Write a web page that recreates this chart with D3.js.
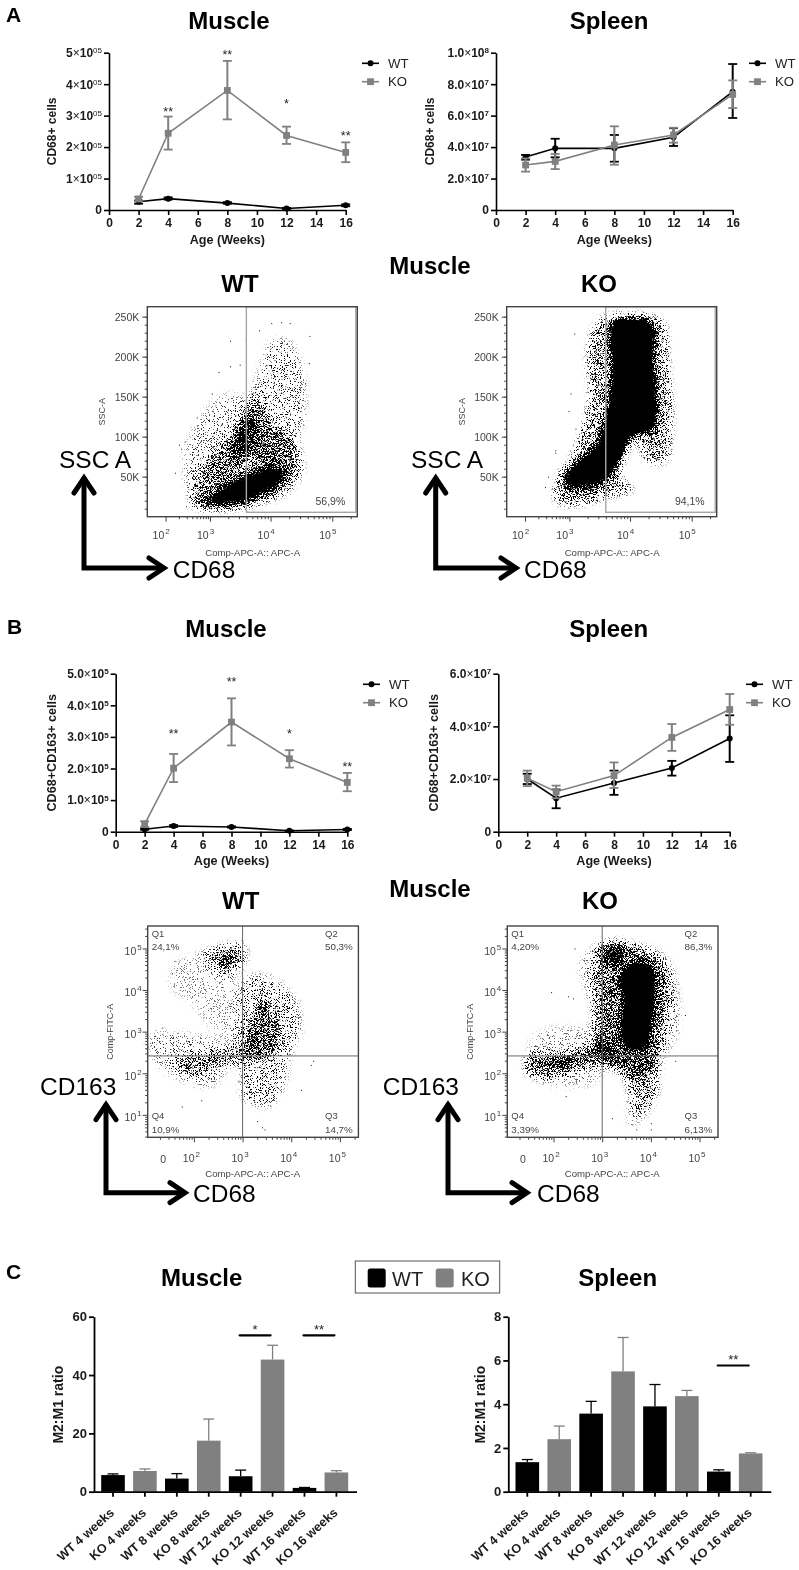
<!DOCTYPE html>
<html><head><meta charset="utf-8">
<script src="https://cdn.jsdelivr.net/npm/d3@7"></script>
<style>html,body{margin:0;background:#fff}svg{display:block;font-family:"Liberation Sans",Arial,sans-serif;filter:blur(.3px)}</style>
</head><body><svg id="c" width="799" height="1570"></svg>
<script>
// ---------- line chart data ----------
const ages=[2,4,8,12,16];
const aMuscleWT=[.26e5,.36e5,.22e5,.05e5,.15e5];
const aMuscleWThi=[.3e5,.4e5,.25e5,.07e5,.18e5];
const aMuscleWTlo=[.2e5,.33e5,.2e5,.03e5,.12e5];
const aMuscleKO=[.35e5,2.44e5,3.8e5,2.37e5,1.83e5];
const aMuscleKOhi=[.42e5,2.97e5,4.74e5,2.65e5,2.15e5];
const aMuscleKOlo=[.28e5,1.92e5,2.88e5,2.1e5,1.52e5];
const aSpleenWT=[3.37e7,3.92e7,3.92e7,4.62e7,7.52e7];
const aSpleenWThi=[3.5e7,4.53e7,4.77e7,5.2e7,9.28e7];
const aSpleenWTlo=[3.2e7,3.35e7,3.07e7,4.07e7,5.85e7];
const aSpleenKO=[2.86e7,3.09e7,4.13e7,4.77e7,7.35e7];
const aSpleenKOhi=[3.28e7,3.56e7,5.32e7,5.23e7,8.24e7];
const aSpleenKOlo=[2.44e7,2.6e7,2.88e7,4.28e7,6.48e7];
const bMuscleWT=[.08e5,.18e5,.15e5,.03e5,.07e5];
const bMuscleWThi=[.1e5,.21e5,.17e5,.04e5,.09e5];
const bMuscleWTlo=[.06e5,.15e5,.13e5,.02e5,.05e5];
const bMuscleKO=[.24e5,2.01e5,3.47e5,2.31e5,1.56e5];
const bMuscleKOhi=[.33e5,2.46e5,4.22e5,2.58e5,1.86e5];
const bMuscleKOlo=[.15e5,1.57e5,2.73e5,2.03e5,1.28e5];
const bSpleenWT=[2.0e7,1.27e7,1.85e7,2.42e7,3.54e7];
const bSpleenWThi=[2.2e7,1.6e7,2.32e7,2.69e7,4.42e7];
const bSpleenWTlo=[1.81e7,.89e7,1.4e7,2.13e7,2.65e7];
const bSpleenKO=[2.03e7,1.52e7,2.13e7,3.58e7,4.64e7];
const bSpleenKOhi=[2.32e7,1.75e7,2.63e7,4.09e7,5.23e7];
const bSpleenKOlo=[1.73e7,1.27e7,1.66e7,3.07e7,4.06e7];
const xTicks=[0,2,4,6,8,10,12,14,16];
const aMuscleTicks=[0,1e5,2e5,3e5,4e5,5e5];
const aSpleenTicks=[0,2e7,4e7,6e7,8e7,1e8];
const bMuscleTicks=[0,1e5,2e5,3e5,4e5,5e5];
const bSpleenTicks=[0,2e7,4e7,6e7];
const aMuscleStars=[[4,"**",3.23e5],[8,"**",5.05e5],[12,"*",3.47e5],[16,"**",2.45e5]];
const bMuscleStars=[[4,"**",3.2e5],[8,"**",4.85e5],[12,"*",3.2e5],[16,"**",2.17e5]];
// ---------- bar chart data ----------
const barLabels=["WT 4 weeks","KO 4 weeks","WT 8 weeks","KO 8 weeks","WT 12 weeks","KO 12 weeks","WT 16 weeks","KO 16 weeks"];
const cMuscle=[5.7,7.1,4.5,17.5,5.3,45.3,1.3,6.6];
const cMuscleErr=[6.1,7.8,6.2,24.9,7.4,50.2,1.45,7.2];
const cSpleen=[1.35,2.4,3.57,5.5,3.9,4.37,.92,1.75];
const cSpleenErr=[1.47,3.0,4.13,7.05,4.9,4.63,1.0,1.78];
const cMuscleSig=[[4,5,"*",53.6],[6,7,"**",53.6]];
const cSpleenSig=[[6,7,"**",5.77]];
// ---------- flow cytometry: density regions [log10 CD68, SSC in K] ----------
const ssWTregions=[
 {d:.72,p:[[2.67,17],[3.49,15],[3.92,29],[4.19,42],[4.25,58],[3.98,62],[3.6,54],[3.27,42],[2.95,25]]},
 {d:.36,p:[[2.57,15],[3.6,12.5],[4.3,33],[4.52,62],[4.36,96],[3.98,121],[3.81,154],[3.6,133],[3.27,96],[2.84,62]]},
 {d:.35,p:[[3.33,75],[3.6,121],[3.76,121],[3.76,100],[3.54,71]]},
 {d:.19,p:[[3.43,96],[3.7,162],[4.03,221],[4.3,221],[4.52,187],[4.57,133],[4.45,87],[4.36,54]]},
 {d:.17,p:[[2.51,33],[2.40,71],[2.73,121],[3.27,154],[3.6,146],[3.49,71]]}];
const ssWTdots=[[2.46,13],[2.21,55],[2.43,94],[2.7,124],[3.33,220],[3.59,221],[3.81,233],[4.63,226],[4.31,242],[4.17,243],[4.01,242],[4.62,192],[4.56,167],[3.03,154],[3.49,190],[3.33,188],[3.14,181],[2.3,90],[2.35,85]];
const ssKOregions=[
 {d:1,p:[[3.72,242],[4.05,248],[4.34,242],[4.37,196],[4.37,108],[4.15,106],[3.99,96],[3.88,75],[3.72,58],[3.40,46],[3.07,46],[2.93,50],[3.18,71],[3.45,87.5],[3.61,125],[3.72,175]]},
 {d:.55,p:[[2.85,46],[3.07,62.5],[3.5,62.5],[3.72,50],[3.45,37.5],[2.95,33]]},
 {d:.36,p:[[3.5,246],[4.05,252],[4.53,244],[4.62,196],[4.67,108],[4.59,71],[4.32,67],[4.05,100],[3.83,54],[4.05,33],[3.61,25],[3.34,17],[2.69,19],[2.75,50],[3.07,79],[3.34,154],[3.29,196]]}];
const ssKOdots=[[3.08,229],[3.02,154],[2.98,132],[2.68,80],[2.68,83],[2.52,50],[2.45,37],[3.1,110],[4.68,120],[4.45,72]];
const qWTregions=[
 {d:.3,p:[[2.19,4.88],[2.47,5.04],[3.01,5.12],[3.08,4.8],[2.81,4.36],[2.47,4.48]]},
 {d:.42,p:[[2.47,4.8],[2.74,4.88],[2.95,4.8],[2.74,4.6],[2.53,4.68]]},
 {d:.36,p:[[3.08,2.4],[3.01,2.72],[3.29,3.6],[3.42,3.92],[3.7,3.44],[3.77,2.8],[3.56,2.4]]},
 {d:.22,p:[[2.95,2.4],[2.88,3.44],[3.08,4.32],[3.56,4.32],[4.11,3.76],[4.18,2.88],[3.97,2.4],[3.9,1.84],[3.56,1.2],[3.01,1.36]]},
 {d:.32,p:[[1.58,2.32],[1.92,2.4],[2.47,2.56],[3.01,2.64],[3.15,2.32],[2.47,2.16],[2.05,1.92],[1.71,2.08]]},
 {d:.17,p:[[1.1,2.96],[1.85,2.96],[2.47,2.8],[2.74,2.4],[2.4,1.68],[1.71,1.84],[1.1,2.4]]},
 {d:.13,p:[[1.58,4.64],[2.19,4.88],[2.81,4.32],[2.95,2.64],[2.53,2.88],[1.92,3.68],[1.51,4.08]]}];
const qWTdots=[[1.58,4.1],[1.35,3.1],[1.2,2.9],[1.75,1.2],[2.15,1.35],[3.3,.85],[3.4,.7],[3.45,.65],[4.2,1.6],[4.45,2.3],[4.4,2.2],[1.9,4.3],[1.6,4.7],[1.55,4.4]];
const qKOregions=[
 {d:.95,p:[[3.36,4.24],[3.64,4.64],[3.98,4.56],[4.08,4],[3.98,3.12],[3.91,2.64],[3.5,2.6],[3.4,3.12],[3.47,3.84]]},
 {d:.36,p:[[2.95,2.4],[2.99,5.12],[3.43,5.12],[4.12,4.8],[4.39,4.24],[4.25,3.04],[4.12,2.4],[3.77,1.84],[3.23,2.16]]},
 {d:.17,p:[[2.82,3.44],[2.54,4.64],[2.95,5.12],[3.5,5.16],[4.32,4.8],[4.6,3.68],[4.53,2.88],[4.18,2.16],[4.05,1.2],[3.57,.72],[3.5,1.84],[2.95,2.32]]},
 {d:.4,p:[[1.51,2.4],[2.27,2.48],[2.82,2.72],[3.23,2.72],[3.36,2.24],[2.68,2.2],[2.13,2],[1.72,1.92],[1.45,2.08]]},
 {d:.45,p:[[1.92,2.28],[2.27,2.4],[2.47,2.32],[2.2,2.16],[1.99,2.16]]},
 {d:.14,p:[[1.38,2.08],[1.65,2.96],[2.54,3.12],[2.95,3.04],[2.95,1.84],[1.99,1.68],[1.51,1.92]]},
 {d:.5,p:[[3.02,4.96],[3.43,5.08],[3.43,4.64],[3.09,4.64]]},
 {d:.22,p:[[3.43,2.32],[4.12,2.32],[4.12,1.52],[3.71,1.04],[3.57,1.52]]}];
const qKOdots=[[1.95,3.95],[2.3,3.85],[2.4,3.8],[2.25,1.45],[3.2,.92],[3.6,.78],[3.7,.65],[4.0,.65],[4.0,.8],[4.5,2.3],[4.7,3.4],[2.43,5.0]];

const BLACK="#000",GRAY="#808080",TXT="#1a1a1a",FLOW="#444";
const svg=d3.select("#c");
function txt(g,x,y,s,o={}){const t=g.append("text").attr("x",x).attr("y",y).text(s)
 .attr("font-size",o.size||12).attr("font-weight",o.w||"normal").attr("fill",o.fill||"#000").attr("text-anchor",o.a||"start");
 if(o.rot!==undefined)t.attr("transform",`rotate(${o.rot} ${x} ${y})`);return t;}
const bold=(x,y,s,size=24)=>txt(svg,x,y,s,{size,w:"bold",a:"middle"});

// stipple filter: blurred density x noise threshold
const defs=svg.append("defs");
function stipple(id,seed){
 const f=defs.append("filter").attr("id",id).attr("x",0).attr("y",0).attr("width",799).attr("height",1570)
  .attr("filterUnits","userSpaceOnUse").attr("color-interpolation-filters","sRGB");
 f.append("feGaussianBlur").attr("in","SourceAlpha").attr("stdDeviation",4).attr("result","den0");
 const g=f.append("feComponentTransfer").attr("in","den0").attr("result","den");
 g.append("feFuncA").attr("type","gamma").attr("amplitude",1.2).attr("exponent",1.3).attr("offset",0);
 f.append("feTurbulence").attr("type","fractalNoise").attr("baseFrequency",1.37).attr("numOctaves",1).attr("seed",seed).attr("result","t");
 f.append("feColorMatrix").attr("in","t").attr("type","matrix").attr("values","0 0 0 0 0 0 0 0 0 0 0 0 0 0 0 3.6 0 0 0 -1.3").attr("result","n");
 f.append("feComposite").attr("in","den").attr("in2","n").attr("operator","arithmetic").attr("k1",0).attr("k2",1.4).attr("k3",1).attr("k4",-1).attr("result","s");
 const c=f.append("feComponentTransfer").attr("in","s");
 c.append("feFuncA").attr("type","linear").attr("slope",5).attr("intercept",0);
}
[1,2,3,4].forEach(i=>stipple("st"+i,i*7));

// ---------- line panels ----------
function powLabel(sel,sup){
 sel.each(function(){
  const v=+d3.select(this).datum(),t=d3.select(this);t.text(null);
  if(v===0){t.append("tspan").text("0");return;}
  sup(t,v);
 });
}
function linePanel(o){
 const g=svg.append("g");
 const x=d3.scaleLinear().domain([0,16]).range([o.x0,o.x1]);
 const y=d3.scaleLinear().domain([0,o.max]).range([o.y0,o.y1]);
 const ax=g.append("g").attr("transform",`translate(0,${o.y0})`).call(d3.axisBottom(x).tickValues(xTicks).tickSize(5).tickSizeOuter(0).tickPadding(3));
 const ay=g.append("g").attr("transform",`translate(${o.x0},0)`).call(d3.axisLeft(y).tickValues(o.ticks).tickSize(5).tickSizeOuter(0).tickPadding(2));
 [ax,ay].forEach(a=>{a.selectAll("path,line").attr("stroke","#000").attr("stroke-width",1.6);
  a.selectAll("text").attr("font-size",12).attr("font-weight","bold").attr("font-family","inherit").attr("fill",TXT);});
 ax.selectAll("text").attr("dy","0.78em");
 powLabel(ay.selectAll("text"),o.fmt);
 txt(g,(o.x0+o.x1)/2,o.y0+33.5,"Age (Weeks)",{size:12.6,w:"bold",a:"middle",fill:TXT});
 txt(g,o.ylx,(o.y0+o.y1)/2,o.ylab,{size:o.ylsize||12,w:"bold",a:"middle",rot:-90,fill:TXT}).attr("dy","0.35em");
 const series=[[o.wt,o.wtHi,o.wtLo,BLACK,"c"],[o.ko,o.koHi,o.koLo,GRAY,"s"]];
 series.forEach(([v,hi,lo,col,kind])=>{
  const l=g.append("g");
  ages.forEach((a,i)=>{
   l.append("line").attr("x1",x(a)).attr("x2",x(a)).attr("y1",y(hi[i])).attr("y2",y(lo[i])).attr("stroke",col).attr("stroke-width",2);
   [hi[i],lo[i]].forEach(e=>l.append("line").attr("x1",x(a)-4.5).attr("x2",x(a)+4.5).attr("y1",y(e)).attr("y2",y(e)).attr("stroke",col).attr("stroke-width",1.8));
  });
  l.append("path").attr("fill","none").attr("stroke",col).attr("stroke-width",1.6)
   .attr("d",d3.line().x((d,i)=>x(ages[i])).y(d=>y(d))(v));
  v.forEach((d,i)=>marker(l,x(ages[i]),y(d),col,kind));
 });
 (o.stars||[]).forEach(([a,s,v])=>txt(g,x(a),y(v)+7.5,s,{size:12.5,a:"middle",fill:"#222"}));
 [["WT",BLACK,"c",o.legY],["KO",GRAY,"s",o.legY+18.4]].forEach(([n,col,k,ly])=>{
  g.append("line").attr("x1",o.legX).attr("x2",o.legX+17).attr("y1",ly).attr("y2",ly).attr("stroke",col).attr("stroke-width",1.6);
  marker(g,o.legX+8.5,ly,col,k);
  txt(g,o.legX+26,ly+4.6,n,{size:13.2,fill:"#222"});
 });
}
function marker(g,cx,cy,col,k){
 if(k==="c")g.append("circle").attr("cx",cx).attr("cy",cy).attr("r",3).attr("fill",col);
 else g.append("rect").attr("x",cx-3.4).attr("y",cy-3.4).attr("width",6.8).attr("height",6.8).attr("fill",col);
}
function fmtSup(mantissa,supText){return (t,v)=>{
 t.append("tspan").text(mantissa(v));
 t.append("tspan").text("×").attr("font-weight","normal");
 t.append("tspan").text("10");
 t.append("tspan").text(supText(v)).attr("font-size",8).attr("dy",-3.6).attr("font-weight",supText(v).length>1?"normal":"bold");
};}
const f05=fmtSup(v=>(v/1e5).toFixed(0),()=>"05");
const f5=fmtSup(v=>(v/1e5).toFixed(1),()=>"5");
const f7=fmtSup(v=>v>=1e8?"1.0":(v/1e7).toFixed(1),v=>v>=1e8?"8":"7");

linePanel({x0:109,x1:345.7,y0:210,y1:52.7,max:5e5,ticks:aMuscleTicks,fmt:f05,ylx:52.3,ylab:"CD68+ cells",
 wt:aMuscleWT,wtHi:aMuscleWThi,wtLo:aMuscleWTlo,ko:aMuscleKO,koHi:aMuscleKOhi,koLo:aMuscleKOlo,stars:aMuscleStars,legX:362,legY:63.3});
linePanel({x0:496,x1:732.7,y0:210,y1:52.7,max:1e8,ticks:aSpleenTicks,fmt:f7,ylx:430,ylab:"CD68+ cells",
 wt:aSpleenWT,wtHi:aSpleenWThi,wtLo:aSpleenWTlo,ko:aSpleenKO,koHi:aSpleenKOhi,koLo:aSpleenKOlo,legX:749,legY:63.3});
linePanel({x0:115.7,x1:347.3,y0:831.7,y1:673.7,max:5e5,ticks:bMuscleTicks,fmt:f5,ylx:51.7,ylab:"CD68+CD163+ cells",ylsize:12.6,
 wt:bMuscleWT,wtHi:bMuscleWThi,wtLo:bMuscleWTlo,ko:bMuscleKO,koHi:bMuscleKOhi,koLo:bMuscleKOlo,stars:bMuscleStars,legX:363,legY:684.3});
linePanel({x0:498.3,x1:729.7,y0:831.7,y1:673.7,max:6e7,ticks:bSpleenTicks,fmt:f7,ylx:434,ylab:"CD68+CD163+ cells",ylsize:12.6,
 wt:bSpleenWT,wtHi:bSpleenWThi,wtLo:bSpleenWTlo,ko:bSpleenKO,koHi:bSpleenKOhi,koLo:bSpleenKOlo,legX:746,legY:684.3});

// ---------- flow plots ----------
function styleFlowAxis(a){a.selectAll("path").attr("stroke","none");a.selectAll("line").attr("stroke",FLOW).attr("stroke-width",1);}
function drawRegions(g,x,y,regions,dots,fid){
 const line=d3.line().x(d=>x(d[0])).y(d=>y(d[1])).curve(d3.curveCatmullRomClosed.alpha(.5));
 const r=g.append("g").attr("filter",`url(#${fid})`).attr("clip-path",null);
 r.selectAll("path").data(regions.slice().sort((a,b)=>a.d-b.d)).join("path").attr("d",d=>line(d.p)).attr("fill","#000").attr("fill-opacity",d=>d.d);
 g.selectAll("rect.dot").data(dots).join("rect").attr("class","dot").attr("x",d=>x(d[0])).attr("y",d=>y(d[1])).attr("width",1).attr("height",1).attr("fill","#111");
}
function supLabels(a,vals,dxSup){
 a.selectAll("text").each(function(){
  const t=d3.select(this),n=+t.datum();t.text(null);
  t.append("tspan").text("10");t.append("tspan").text(n).attr("font-size",8).attr("dy",-5).attr("dx",1);
 });
}
function frame(g,l,t,w,h){g.append("rect").attr("x",l).attr("y",t).attr("width",w).attr("height",h).attr("fill","none").attr("stroke",FLOW).attr("stroke-width",1.4);}

function flowA(o){
 const g=svg.append("g"),top=306.7,H=210,W=210;
 const x=d3.scaleLinear().domain([1.7,2,3,4,5,5.41]).range([o.l,o.l+18.3,o.l+62.7,o.l+123.3,o.l+185,o.l+W]);
 const y=d3.scaleLinear().domain([0,262.5]).range([top+H,top]);
 drawRegions(g,x,y,o.regions,o.dots,o.fid);
 // gate
 g.append("rect").attr("x",x(3.6)).attr("y",top).attr("width",o.l+W-1.5-x(3.6)).attr("height",y(5.5)-top).attr("fill","none").attr("stroke","#a6a6a6").attr("stroke-width",1.4);
 frame(g,o.l,top,W,H);
 const minorY=d3.range(10,260,10),minorX=[];
 [2,3,4,5].forEach(n=>d3.range(2,10).forEach(k=>{const v=n+Math.log10(k);if(v<5.41)minorX.push(v);}));
 const ay0=g.append("g").attr("transform",`translate(${o.l},0)`).call(d3.axisLeft(y).tickValues(minorY).tickSize(2.5).tickFormat(""));styleFlowAxis(ay0);
 const ax0=g.append("g").attr("transform",`translate(0,${top+H})`).call(d3.axisBottom(x).tickValues(minorX).tickSize(2.5).tickFormat(""));styleFlowAxis(ax0);
 const ay=g.append("g").attr("transform",`translate(${o.l},0)`).call(d3.axisLeft(y).tickValues([50,100,150,200,250]).tickSize(5).tickFormat(d=>d+"K"));styleFlowAxis(ay);
 const ax=g.append("g").attr("transform",`translate(0,${top+H})`).call(d3.axisBottom(x).tickValues([2,3,4,5]).tickSize(5).tickPadding(8));styleFlowAxis(ax);
 [ax,ay].forEach(a=>a.selectAll("text").attr("font-size",10.5).attr("font-family","inherit").attr("fill",FLOW));
 ax.selectAll("text").attr("dx",-5).attr("dy","0.85em");
 supLabels(ax);
 txt(g,o.l+105.4,556,"Comp-APC-A:: APC-A",{size:9.6,a:"middle",fill:FLOW});
 txt(g,o.l-45.3,411.7,"SSC-A",{size:9,a:"middle",rot:-90,fill:FLOW}).attr("dy","0.35em");
 txt(g,o.l+198,505,o.pct,{size:10.5,a:"end",fill:FLOW});
 arrow(o.arrX,475,568,o.arrEnd);
 txt(svg,o.lab1X,468,"SSC A",{size:24.5});
 txt(svg,o.lab2X,578,"CD68",{size:24.5});
}
function flowB(o){
 const g=svg.append("g"),top=926,H=211.3,W=210.7;
 const x=d3.scaleLinear().domain([1.05,5.38]).range([o.l,o.l+W]);
 const y=d3.scaleLinear().domain([.46,5.54]).range([top+H,top]);
 drawRegions(g,x,y,o.regions,o.dots,o.fid);
 g.append("line").attr("x1",x(3)).attr("x2",x(3)).attr("y1",top).attr("y2",top+H).attr("stroke","#666").attr("stroke-width",1);
 g.append("line").attr("x1",o.l).attr("x2",o.l+W).attr("y1",y(2.416)).attr("y2",y(2.416)).attr("stroke","#666").attr("stroke-width",1);
 frame(g,o.l,top,W,H);
 const minorY=[],minorX=[];
 [0,1,2,3,4,5].forEach(n=>d3.range(2,10).forEach(k=>{const v=n+Math.log10(k);if(v>.46&&v<5.54)minorY.push(v);if(v>1.05&&v<5.38)minorX.push(v);}));
 const ay0=g.append("g").attr("transform",`translate(${o.l},0)`).call(d3.axisLeft(y).tickValues(minorY).tickSize(2.5).tickFormat(""));styleFlowAxis(ay0);
 const ax0=g.append("g").attr("transform",`translate(0,${top+H})`).call(d3.axisBottom(x).tickValues(minorX).tickSize(2.5).tickFormat(""));styleFlowAxis(ax0);
 const ay=g.append("g").attr("transform",`translate(${o.l},0)`).call(d3.axisLeft(y).tickValues([1,2,3,4,5]).tickSize(5).tickPadding(1));styleFlowAxis(ay);
 const ax=g.append("g").attr("transform",`translate(0,${top+H})`).call(d3.axisBottom(x).tickValues([2,3,4,5]).tickSize(5).tickPadding(11));styleFlowAxis(ax);
 [ax,ay].forEach(a=>a.selectAll("text").attr("font-size",10.5).attr("font-family","inherit").attr("fill",FLOW));
 ax.selectAll("text").attr("dx",-3).attr("dy","0.85em");
 ay.selectAll("text").attr("dy","0.55em");
 supLabels(ax);supLabels(ay);
 txt(g,x(1.37),1163,"0",{size:10.5,a:"middle",fill:FLOW});
 txt(g,o.l+105,1176.7,"Comp-APC-A:: APC-A",{size:9.6,a:"middle",fill:FLOW});
 txt(g,o.l-37.7,1031.7,"Comp-FITC-A",{size:9,a:"middle",rot:-90,fill:FLOW}).attr("dy","0.35em");
 o.q.forEach((s,i)=>{
  const lx=o.l+(i===1||i===2?177.3:4),b=i<2;
  txt(g,lx,top+(b?11:193),["Q1","Q2","Q3","Q4"][i],{size:9.5,fill:FLOW});
  txt(g,lx,top+(b?24:206.7),s,{size:9.8,fill:FLOW});
 });
 arrow(o.arrX,1101.7,1192.7,o.arrEnd);
 txt(svg,o.lab1X,1095,"CD163",{size:24.5});
 txt(svg,o.lab2X,1201.7,"CD68",{size:24.5});
}
function arrow(ax,yTop,yB,xEnd){
 const a=svg.append("g").attr("fill","none").attr("stroke","#000").attr("stroke-width",5).attr("stroke-linejoin","miter");
 a.append("path").attr("d",`M${ax},${yTop+2}V${yB}H${xEnd-2}`);
 a.append("path").attr("d",`M${ax-10},${yTop+18}L${ax},${yTop+3}L${ax+10},${yTop+18}`).attr("stroke-linecap","round");
 a.append("path").attr("d",`M${xEnd-16},${yB-10}L${xEnd-1},${yB}L${xEnd-16},${yB+10}`).attr("stroke-linecap","round");
}
flowA({l:147.3,regions:ssWTregions,dots:ssWTdots,fid:"st1",pct:"56,9%",arrX:84,arrEnd:165,lab1X:59,lab2X:172.7});
flowA({l:506.7,regions:ssKOregions,dots:ssKOdots,fid:"st2",pct:"94,1%",arrX:435.7,arrEnd:517,lab1X:411,lab2X:524});
flowB({l:147.7,regions:qWTregions,dots:qWTdots,fid:"st3",q:["24,1%","50,3%","14,7%","10,9%"],arrX:106,arrEnd:186,lab1X:40,lab2X:193});
flowB({l:507.3,regions:qKOregions,dots:qKOdots,fid:"st4",q:["4,20%","86,3%","6,13%","3,39%"],arrX:448,arrEnd:528,lab1X:382.7,lab2X:537});

// ---------- bar panels ----------
function barPanel(o){
 const g=svg.append("g"),y0=1491.7,y1=1316.7;
 const x=d3.scaleBand().domain(barLabels).range([o.b0,o.b0+8*32.95]).padding(.26);
 const y=d3.scaleLinear().domain([0,o.max]).range([y0,y1]);
 const col=i=>i%2?GRAY:BLACK;
 o.err.forEach((e,i)=>{const c=x(barLabels[i])+x.bandwidth()/2;
  g.append("line").attr("x1",c).attr("x2",c).attr("y1",y(e)).attr("y2",y(o.vals[i])).attr("stroke",col(i)).attr("stroke-width",1.3);
  g.append("line").attr("x1",c-5.5).attr("x2",c+5.5).attr("y1",y(e)).attr("y2",y(e)).attr("stroke",col(i)).attr("stroke-width",1.3);});
 g.selectAll("rect").data(o.vals).join("rect").attr("x",(d,i)=>x(barLabels[i])).attr("y",d=>y(d)).attr("width",x.bandwidth()).attr("height",d=>y0-y(d)).attr("fill",(d,i)=>col(i));
 const ax=g.append("g").attr("transform",`translate(0,${y0})`).call(d3.axisBottom(x).tickSize(5).tickSizeOuter(0));
 const ay=g.append("g").attr("transform",`translate(${o.ax},0)`).call(d3.axisLeft(y).tickValues(o.ticks).tickSize(5).tickSizeOuter(0).tickPadding(2));
 ax.select("path").attr("d",`M${o.ax},0.5H${o.ax+263}`);
 [ax,ay].forEach(a=>{a.selectAll("path,line").attr("stroke","#000").attr("stroke-width",1.8);
  a.selectAll("text").attr("font-family","inherit").attr("font-weight","bold").attr("fill",TXT);});
 ay.selectAll("text").attr("font-size",13);
 ax.selectAll("text").attr("font-size",12.6).attr("text-anchor","end").attr("dy",0).attr("y",0)
  .attr("transform","translate(2,22) rotate(-42)");
 txt(g,o.ylx,(y0+y1)/2+.5,"M2:M1 ratio",{size:14,w:"bold",a:"middle",rot:-90,fill:TXT}).attr("dy","0.35em");
 o.sig.forEach(([a,b,s,v])=>{
  const c=(x(barLabels[a])+x(barLabels[b])+x.bandwidth())/2-1.5;
  g.append("line").attr("x1",c-15.5).attr("x2",c+15.5).attr("y1",y(v)).attr("y2",y(v)).attr("stroke","#000").attr("stroke-width",2.2).attr("stroke-linecap","round");
  txt(g,c,y(v)-1,s,{size:13,a:"middle",fill:"#222"});
 });
}
barPanel({b0:92.9,ax:94,max:60,ticks:[0,20,40,60],vals:cMuscle,err:cMuscleErr,sig:cMuscleSig,ylx:58});
barPanel({b0:507.2,ax:508.3,max:8,ticks:[0,2,4,6,8],vals:cSpleen,err:cSpleenErr,sig:cSpleenSig,ylx:480});

// legend of part C
svg.append("rect").attr("x",355.3).attr("y",1261).attr("width",144.4).attr("height",32).attr("fill","#fff").attr("stroke","#555").attr("stroke-width",1);
svg.append("rect").attr("x",367.7).attr("y",1268.5).attr("width",18).attr("height",19).attr("rx",2.5).attr("fill",BLACK);
svg.append("rect").attr("x",435.7).attr("y",1268.5).attr("width",18).attr("height",19).attr("rx",2.5).attr("fill",GRAY);
txt(svg,392,1285.5,"WT",{size:20,fill:"#222"});
txt(svg,461,1285.5,"KO",{size:20,fill:"#222"});

// titles
bold(229,29,"Muscle");bold(609,29,"Spleen");
bold(430,274,"Muscle");bold(240,291.7,"WT");bold(599,291.7,"KO");
bold(226,637,"Muscle");bold(608.7,637,"Spleen");
bold(430,897,"Muscle");bold(240.7,909,"WT");bold(600,909,"KO");
bold(201.7,1285.7,"Muscle");bold(617.7,1285.7,"Spleen");
txt(svg,6,21.7,"A",{size:21,w:"bold"});
txt(svg,7,634,"B",{size:21,w:"bold"});
txt(svg,6,1279,"C",{size:21,w:"bold"});
</script></body></html>
